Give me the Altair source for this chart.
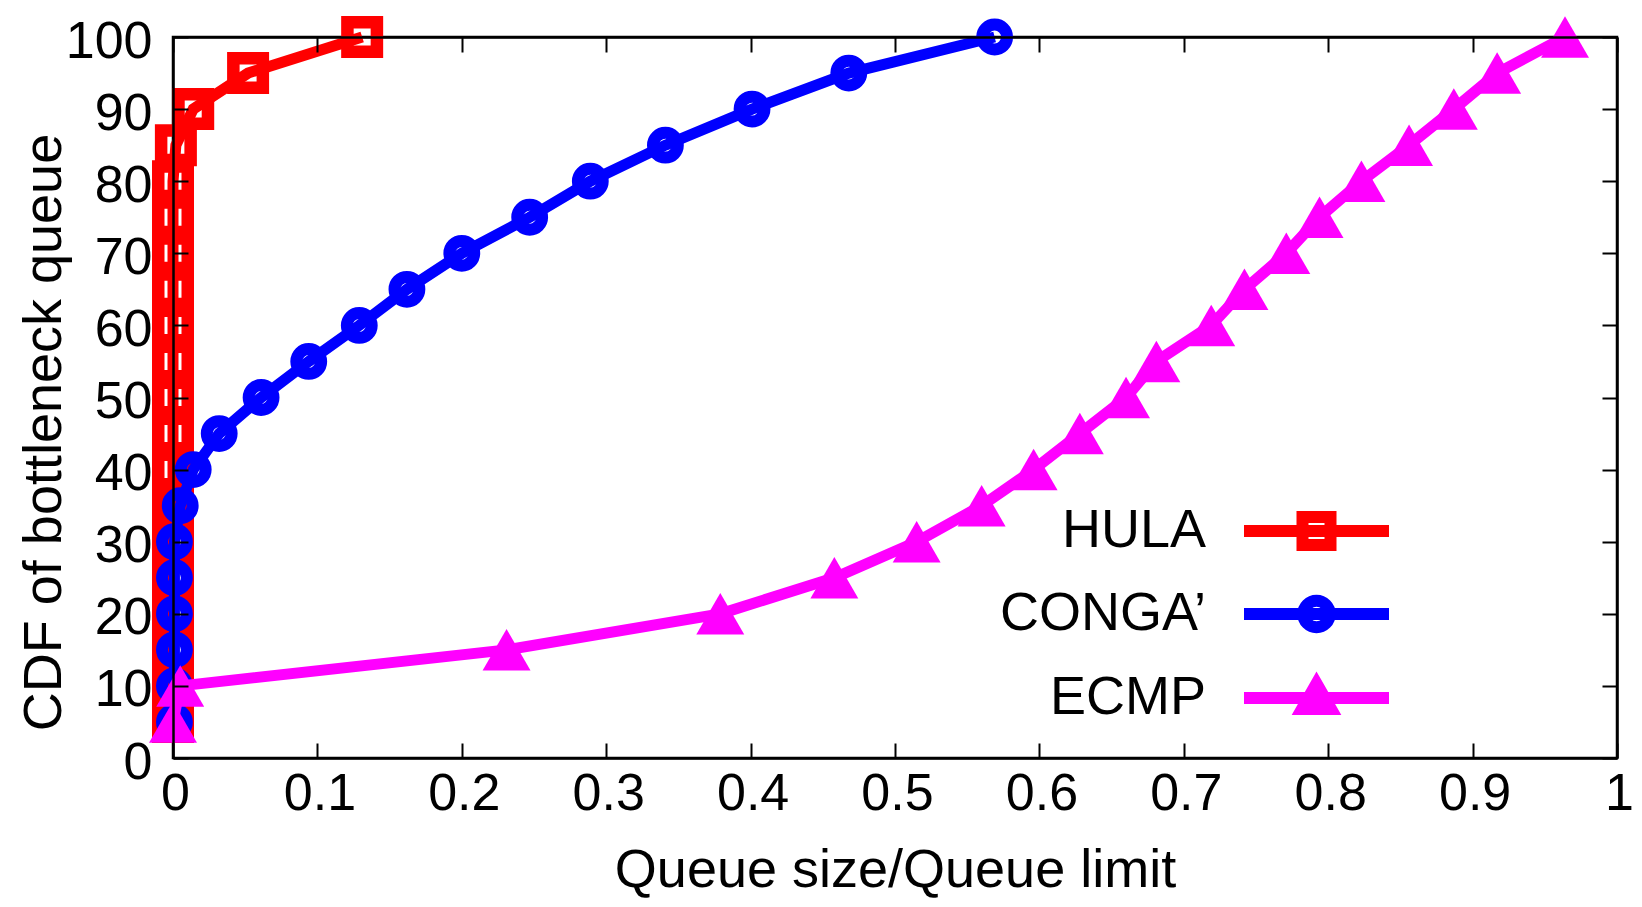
import altair as alt
import pandas as pd

series_names = ["HULA", "CONGA’", "ECMP"]
series_colors = ["#ff0000", "#0000ff", "#ff00ff"]
cdf_levels = [5, 10, 15, 20, 25, 30, 35, 40, 45, 50, 55, 60, 65, 70, 75, 80, 85, 90, 95, 100]
hula_x = [0, 0, 0, 0, 0, 0, 0, 0, 0, 0, 0, 0, 0, 0, 0, 0, 0.002, 0.014, 0.052, 0.131]
conga_x = [0.001, 0.001, 0.001, 0.001, 0.001, 0.001, 0.005, 0.014, 0.032, 0.061,
           0.094, 0.129, 0.162, 0.2, 0.247, 0.289, 0.341, 0.401, 0.468, 0.569]
ecmp_x = [0, 0.005, 0.231, 0.379, 0.458, 0.515, 0.56, 0.596, 0.628, 0.66,
          0.681, 0.719, 0.742, 0.771, 0.794, 0.823, 0.856, 0.887, 0.917, 0.964]
x_ticks = [0, 0.1, 0.2, 0.3, 0.4, 0.5, 0.6, 0.7, 0.8, 0.9, 1.0]
y_ticks = [0, 10, 20, 30, 40, 50, 60, 70, 80, 90, 100]
x_title = "Queue size/Queue limit"
y_title = "CDF of bottleneck queue"

rows = []
for name, xs_ in zip(series_names, [hula_x, conga_x, ecmp_x]):
    for q, c in zip(xs_, cdf_levels):
        rows.append({"series": name, "q": q, "cdf": c})
df = pd.DataFrame(rows)

W, H = 1444, 721
FONT = "Liberation Sans"
xsc = alt.Scale(domain=[0, 1], nice=False, zero=False)
ysc = alt.Scale(domain=[0, 100], nice=False, zero=False)

tick_common = dict(labels=False, ticks=True, tickSize=15, tickWidth=2, tickColor="black",
                   grid=False, zindex=1)
dom = dict(domain=True, domainColor="black", domainWidth=2.5)

ax_x_main = alt.Axis(orient="bottom", values=x_ticks, format=".1~f", ticks=False, tickSize=0,
                     labelFont=FONT, labelFontSize=52, labelColor="black", labelPadding=10,
                     labelOffset=2, labelFlush=False, labelOverlap=False, grid=False,
                     title=x_title, titleFont=FONT, titleFontSize=54, titleFontWeight="normal",
                     titleColor="black", titleY=128, titleBaseline="alphabetic", zindex=1, **dom)
ax_x_in_bottom = alt.Axis(orient="top", offset=-H, values=x_ticks, domain=False, **tick_common)
ax_x_in_top = alt.Axis(orient="bottom", offset=-H, values=x_ticks, **dom, **tick_common)

ax_y_main = alt.Axis(orient="left", values=y_ticks, ticks=False, tickSize=0,
                     labelFont=FONT, labelFontSize=52, labelColor="black", labelPadding=21,
                     labelOffset=4, labelFlush=False, labelOverlap=False, grid=False,
                     title=y_title, titleFont=FONT, titleFontSize=54, titleFontWeight="normal",
                     titleColor="black", titleAngle=270, titleX=-113, titleY=395,
                     titleAlign="center", titleBaseline="alphabetic", zindex=1, **dom)
ax_y_in_left = alt.Axis(orient="right", offset=-W, values=y_ticks, domain=False, **tick_common)
ax_y_in_right = alt.Axis(orient="left", offset=-W, values=y_ticks, **dom, **tick_common)


def enc(xaxis, yaxis):
    if xaxis is None:
        x = alt.X("q:Q", scale=xsc, axis=None)
    elif xaxis is ax_x_main:
        x = alt.X("q:Q", scale=xsc, axis=xaxis)
    else:
        x = alt.X("q:Q", scale=xsc, axis=xaxis, title=None)
    if yaxis is None:
        y = alt.Y("cdf:Q", scale=ysc, axis=None)
    elif yaxis is ax_y_main:
        y = alt.Y("cdf:Q", scale=ysc, axis=yaxis)
    else:
        y = alt.Y("cdf:Q", scale=ysc, axis=yaxis, title=None)
    return dict(x=x, y=y)


def line_layer(name, color, xa=None, ya=None):
    return (alt.Chart(df).transform_filter(alt.datum.series == name)
            .mark_line(color=color, strokeWidth=11)
            .encode(order=alt.Order("cdf:Q"), **enc(xa, ya)))


hula_line = line_layer("HULA", series_colors[0], ax_x_main, ax_y_main)
hula_pts = (alt.Chart(df).transform_filter(alt.datum.series == "HULA")
            .mark_point(shape="square", filled=False, size=870, strokeWidth=12.5,
                        color=series_colors[0], opacity=1)
            .encode(**enc(ax_x_in_bottom, ax_y_in_left)))
conga_line = line_layer("CONGA’", series_colors[1], ax_x_in_top, ax_y_in_right)
conga_pts = (alt.Chart(df).transform_filter(alt.datum.series == "CONGA’")
             .mark_point(shape="circle", filled=False, size=616, strokeWidth=12,
                         color=series_colors[1], opacity=1)
             .encode(**enc(None, None)))
ecmp_line = line_layer("ECMP", series_colors[2])
ecmp_pts = (alt.Chart(df).transform_filter(alt.datum.series == "ECMP")
            .mark_point(shape="triangle-up", filled=True, size=2300,
                        color=series_colors[2], opacity=1)
            .encode(**enc(None, None)))

# legend glyphs: line segment with the series marker, drawn to the right of the label
legend_paths = [
    "M13.25,0L20.5,0M16.175,-0.7L17.575,-0.7L17.575,0.7L16.175,0.7Z",
    "M13.25,0L20.5,0M16.2125,0A0.6625,0.6625,0,1,0,17.5375,0A0.6625,0.6625,0,1,0,16.2125,0Z",
    "M13.25,0L20.5,0M16.875,-0.725L17.6,0.545L16.15,0.545Z",
]
legend_fills = ["transparent", "transparent", series_colors[2]]

leg = alt.Legend(orient="none", legendX=779, legendY=467, title=None, padding=0,
                 labelFont=FONT, labelFontSize=54, labelColor="black", labelAlign="right",
                 labelBaseline="middle", labelOffset=200, labelLimit=600,
                 symbolSize=1600, symbolStrokeWidth=12, symbolOpacity=1, rowPadding=7)

legend_layer = (alt.Chart(df).transform_filter("false")
                .mark_point(filled=True, size=1600, strokeWidth=12, opacity=1)
                .encode(
                    shape=alt.Shape("series:N", scale=alt.Scale(domain=series_names, range=legend_paths), legend=leg),
                    fill=alt.Fill("series:N", scale=alt.Scale(domain=series_names, range=legend_fills), legend=leg),
                    stroke=alt.Stroke("series:N", scale=alt.Scale(domain=series_names, range=series_colors), legend=leg),
                ))

chart = (alt.layer(hula_line, hula_pts, conga_line, conga_pts, ecmp_line, ecmp_pts, legend_layer)
         .resolve_axis(x="independent", y="independent")
         .properties(width=W, height=H,
                     padding={"left": 165, "top": 29, "right": 17, "bottom": 140},
                     autosize=alt.AutoSizeParams(type="none"),
                     background="white")
         .configure_view(stroke="black", strokeWidth=2.5))

chart.save("out.html", embed_options={"renderer": "svg", "actions": False})
